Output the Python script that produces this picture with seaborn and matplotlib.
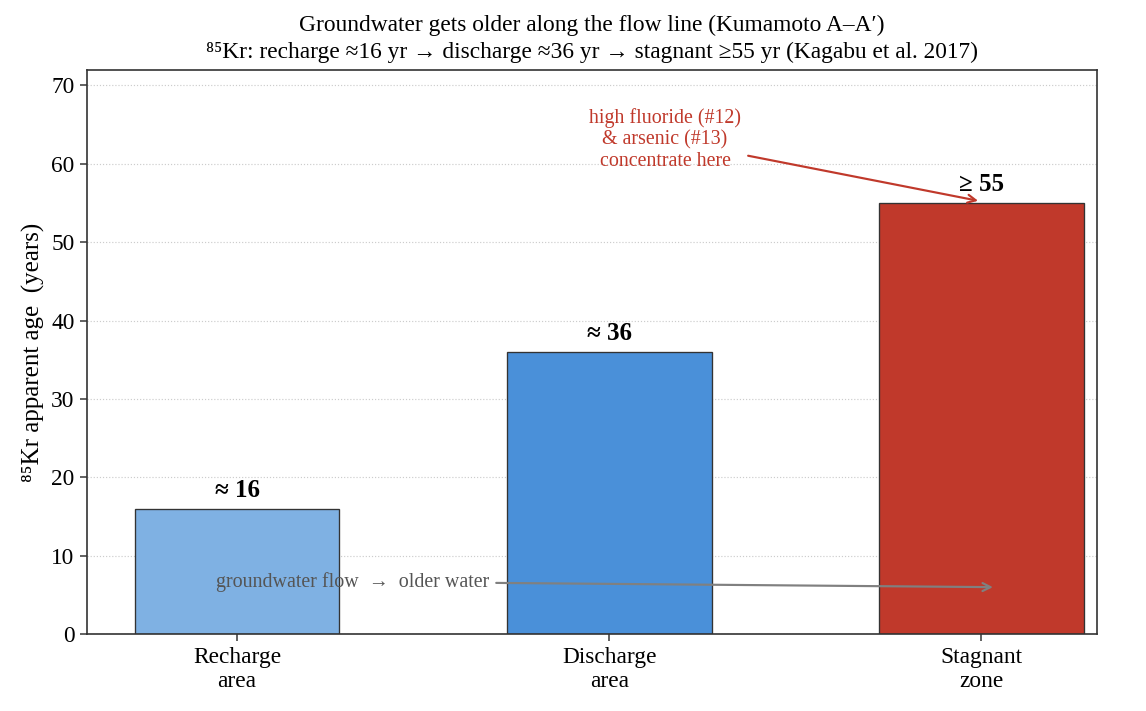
import pandas as pd
import matplotlib
matplotlib.use("Agg")
import matplotlib.pyplot as plt
import seaborn as sns

# Data
zones = ["Recharge\narea", "Discharge\narea", "Stagnant\nzone"]
ages = [16, 36, 55]
age_labels = ["≈ 16", "≈ 36", "≥ 55"]
bar_colors = ["#7fb1e3", "#4a90d9", "#c0392b"]

df = pd.DataFrame({"zone": zones, "age": ages})

sns.set_style("white")
plt.rcParams["font.family"] = ["Liberation Serif", "DejaVu Serif"]
plt.rcParams["text.color"] = "black"
plt.rcParams["axes.labelcolor"] = "black"
plt.rcParams["xtick.color"] = "black"
plt.rcParams["ytick.color"] = "black"

fig, ax = plt.subplots(figsize=(9.55, 5.925), dpi=120)

sns.barplot(data=df, x="zone", y="age", hue="zone", palette=bar_colors,
            width=0.55, edgecolor="#333333", linewidth=0.8, legend=False,
            saturation=1, ax=ax)

for i, (v, lab) in enumerate(zip(ages, age_labels)):
    ax.text(i, v + 0.9, lab, ha="center", va="bottom",
            fontsize=15, fontweight="bold")

ax.annotate("groundwater flow  →  older water", xy=(2.04, 6.0), xytext=(0.31, 6.7),
            ha="center", va="center", fontsize=12, color="#555555",
            arrowprops=dict(arrowstyle="->", color="gray", lw=1.3))

ax.annotate("high fluoride (#12)\n& arsenic (#13)\nconcentrate here",
            xy=(2.0, 55.2), xytext=(1.15, 63.1),
            ha="center", va="center", fontsize=12, color="#c0392b",
            linespacing=1.15,
            arrowprops=dict(arrowstyle="->", color="#c0392b", lw=1.3))

ax.set_xlim(-0.403, 2.31)
ax.set_ylim(0, 72)
ax.set_yticks(range(0, 71, 10))
ax.yaxis.grid(True, linestyle=":", color="#cccccc", linewidth=0.7)
ax.set_axisbelow(True)
ax.set_xlabel("")
ax.set_ylabel("⁸⁵Kr apparent age  (years)", fontsize=15)
ax.tick_params(axis="both", labelsize=14, length=4, width=0.9, color="#333333",
               bottom=True, left=True)
for s in ax.spines.values():
    s.set_color("#333333")
    s.set_linewidth(1.0)

ax.set_title("Groundwater gets older along the flow line (Kumamoto A–A′)\n"
             "⁸⁵Kr: recharge ≈16 yr → discharge ≈36 yr → stagnant ≥55 yr (Kagabu et al. 2017)",
             fontsize=14, pad=7, linespacing=1.35)

fig.subplots_adjust(left=0.076, right=0.957, top=0.902, bottom=0.108)
fig.savefig("out.png", dpi=120)
